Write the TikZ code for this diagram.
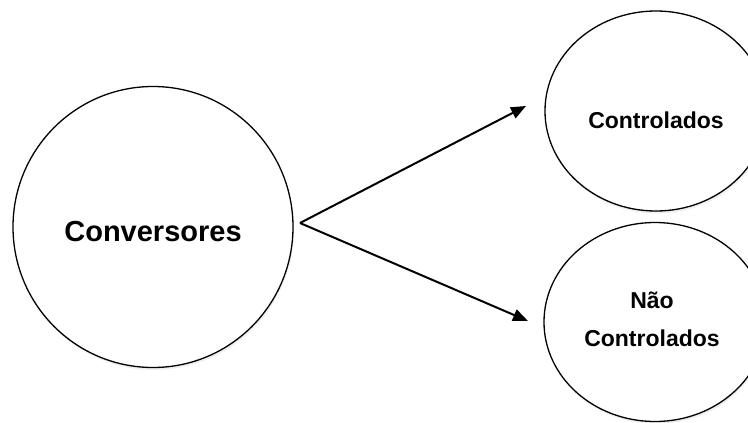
\documentclass[tikz,border=0pt]{standalone}
\usepackage{fontspec}
\setmainfont{Liberation Sans}
\usetikzlibrary{arrows.meta,shapes.geometric,shadows}
\begin{document}
\begin{tikzpicture}[x=1pt,y=-1pt,
  bubble/.style={draw=black,line width=1.3pt,ellipse,inner sep=0pt,fill=white,
    drop shadow={opacity=0.12,shadow xshift=1pt,shadow yshift=-2.5pt}},
  link/.style={line width=2pt,-{Triangle[length=15pt,width=12pt]}}]
  \useasboundingbox (0,0) rectangle (748,423);
  \fill[white] (0,0) rectangle (748,423);
  \clip (0,0) rectangle (748,423);
  \node[bubble,minimum width=280pt,minimum height=281pt] (conv) at (153,227) {};
  \node[font=\bfseries\fontsize{29}{34}\selectfont] (convt) at (153,232) {Conversores};
  \node[bubble,minimum width=222pt,minimum height=200pt] (ctrl) at (656,111) {};
  \node[font=\bfseries\fontsize{23}{27}\selectfont] (ctrlt) at (656,120) {Controlados};
  \node[bubble,minimum width=222pt,minimum height=199pt] (nctrl) at (655,322) {};
  \node[font=\bfseries\fontsize{23}{38}\selectfont,align=center] (nctrlt) at (652,319) {Não\\Controlados};
  \coordinate (fork) at (300,223);
  \coordinate (upend) at (526,106);
  \coordinate (downend) at (528,321);
  \draw[link] (fork) -- (upend);
  \draw[link] (fork) -- (downend);
\end{tikzpicture}
\end{document}
